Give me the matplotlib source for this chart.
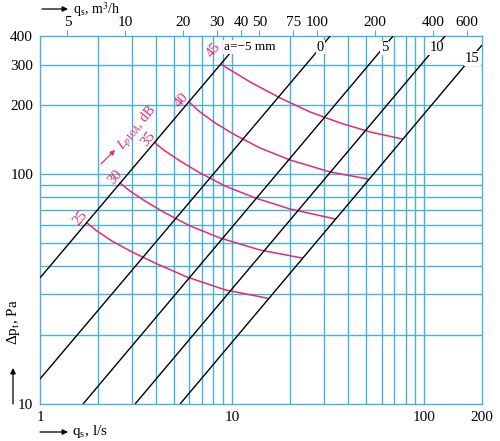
import matplotlib
matplotlib.use("Agg")
import matplotlib.pyplot as plt
from matplotlib.ticker import FixedLocator, FixedFormatter, NullLocator

plt.rcParams["font.family"] = ["Liberation Serif", "DejaVu Serif"]
plt.rcParams["mathtext.fontset"] = "stix"

GRID = "#44b3d6"
PINK = "#e5287b"

# axis ranges (l/s, Pa)
Q_LIM = (1, 200)
P_LIM = (10, 400)

# grid positions
grid_q = [2, 3, 4, 5, 6, 7, 8, 9, 10, 20, 30, 40, 50, 60, 70, 80, 90, 100]
grid_p = [20, 30, 40, 50, 60, 70, 80, 90, 100, 200, 300]

bottom_ticks = [1, 10, 100, 200]
left_ticks = [10, 100, 200, 300, 400]
top_ticks = [5, 10, 20, 30, 40, 50, 75, 100, 200, 400, 600]

# damper lines a (mm): end points
a_labels = ["a=−5 mm", "0", "5", "10", "15"]
a_q = [[1.0, 9.76], [1.0, 32.4], [1.675, 68.9], [3.125, 128.6], [5.36, 200.0]]
a_p = [[35.4, 337.0], [12.85, 400.0], [10.0, 400.0], [10.0, 400.0], [10.0, 365.0]]
a_label_q = [12.4, 28.9, 62.1, 116.0, 178.0]
a_label_p = [358.0, 358.0, 355.0, 355.0, 320.0]

# sound level curves L_p10A (dB)
L_levels = ["25", "30", "35", "40", "45"]
L_q = [
    [1.757, 1.982, 2.371, 3.014, 4.07, 5.83, 9.20, 15.22],
    [2.61, 2.94, 3.52, 4.48, 6.04, 8.66, 13.99, 23.15],
    [3.97, 4.48, 5.36, 6.81, 9.20, 13.18, 20.05, 34.4],
    [6.04, 6.81, 8.16, 10.37, 13.99, 20.05, 32.39, 51.1],
    [8.87, 12.41, 17.78, 25.48, 36.52, 52.33, 76.8],
]
L_p = [
    [61.4, 56.6, 51.2, 45.9, 40.7, 35.7, 31.4, 28.9],
    [91.6, 84.6, 76.5, 67.9, 59.6, 52.8, 46.8, 43.2],
    [136.8, 126.3, 114.3, 101.3, 88.9, 78.9, 70.6, 63.9],
    [204.4, 186.7, 167.3, 148.3, 130.1, 115.4, 102.3, 95.4],
    [299.2, 252.3, 214.9, 186.7, 167.3, 152.8, 142.5],
]
L_label_q = [1.616, 2.457, 3.65, 5.49, 8.05]
L_label_p = [64.6, 97.3, 142.5, 210.6, 347.0]

fig = plt.figure(figsize=(5.0, 4.41), dpi=100)
ax = fig.add_axes([0.08, 0.0839, 0.884, 0.8345])
ax.set_xscale("log")
ax.set_yscale("log")
ax.set_xlim(*Q_LIM)
ax.set_ylim(*P_LIM)

ax.vlines(grid_q, P_LIM[0], P_LIM[1], color=GRID, lw=1.0, zorder=1)
ax.hlines(grid_p, Q_LIM[0], Q_LIM[1], color=GRID, lw=1.0, zorder=1)
for sp in ax.spines.values():
    sp.set_color(GRID)
    sp.set_linewidth(1.0)

for q, p in zip(a_q, a_p):
    ax.plot(q, p, color="black", lw=1.0, zorder=3, solid_capstyle="butt")
for i, (lab, q, p) in enumerate(zip(a_labels, a_label_q, a_label_p)):
    ax.text(q, p, lab, fontsize=9.5 if i == 0 else 10.5, ha="center", va="center",
            zorder=5, bbox=dict(facecolor="white", edgecolor="none", pad=0.6))

for q, p in zip(L_q, L_p):
    ax.plot(q, p, color=PINK, lw=1.1, zorder=2)
for lab, q, p in zip(L_levels, L_label_q, L_label_p):
    ax.text(q, p, lab, fontsize=10.5, color=PINK, rotation=50,
            ha="center", va="center", rotation_mode="anchor", zorder=5)

ax.text(3.2, 160, r"$L_{p10A}$, dB", fontsize=10, color=PINK, rotation=50,
        ha="center", va="center", rotation_mode="anchor", zorder=5)
ax.annotate("", xy=(2.46, 127.7), xytext=(2.08, 111),
            arrowprops=dict(arrowstyle="-|>", color=PINK, lw=0.9,
                            mutation_scale=7, shrinkA=0, shrinkB=0))

ax.xaxis.set_major_locator(FixedLocator(bottom_ticks))
ax.xaxis.set_major_formatter(FixedFormatter([str(t) for t in bottom_ticks]))
ax.xaxis.set_minor_locator(NullLocator())
ax.yaxis.set_major_locator(FixedLocator(left_ticks))
ax.yaxis.set_major_formatter(FixedFormatter([str(t) for t in left_ticks]))
ax.yaxis.set_minor_locator(NullLocator())
ax.tick_params(axis="both", length=0, labelsize=11, pad=5)

top = ax.twiny()
top.set_xscale("log")
top.set_xlim(Q_LIM[0] * 3.6, Q_LIM[1] * 3.6)
top.xaxis.set_major_locator(FixedLocator(top_ticks))
top.xaxis.set_major_formatter(FixedFormatter([str(t) for t in top_ticks]))
top.xaxis.set_minor_locator(NullLocator())
top.tick_params(axis="x", length=4, color=GRID, labelsize=11, pad=1)
for sp in top.spines.values():
    sp.set_visible(False)

# axis titles with arrows
arrow = dict(arrowstyle="-|>", color="black", lw=0.9, mutation_scale=8,
             shrinkA=0, shrinkB=0)
fig.text(0.144, 1 - 432 / 441, r"q$_\mathregular{s}$, l/s", fontsize=11,
         ha="left", va="center")
ax.annotate("", xy=(0.136, 1 - 432 / 441), xytext=(0.08, 1 - 432 / 441),
            xycoords="figure fraction", arrowprops=arrow)
fig.text(0.146, 1 - 14 / 441, r"q$_\mathregular{s}$, m$^3$/h", fontsize=10,
         ha="left", va="baseline")
ax.annotate("", xy=(0.136, 1 - 9 / 441), xytext=(0.084, 1 - 9 / 441),
            xycoords="figure fraction", arrowprops=arrow)
fig.text(0.026, 1 - 322 / 441, r"Δp$_\mathregular{t}$, Pa", fontsize=11,
         ha="center", va="center", rotation=90)
ax.annotate("", xy=(0.026, 1 - 368 / 441), xytext=(0.026, 1 - 404 / 441),
            xycoords="figure fraction", arrowprops=arrow)

fig.savefig("out.png", dpi=100)
